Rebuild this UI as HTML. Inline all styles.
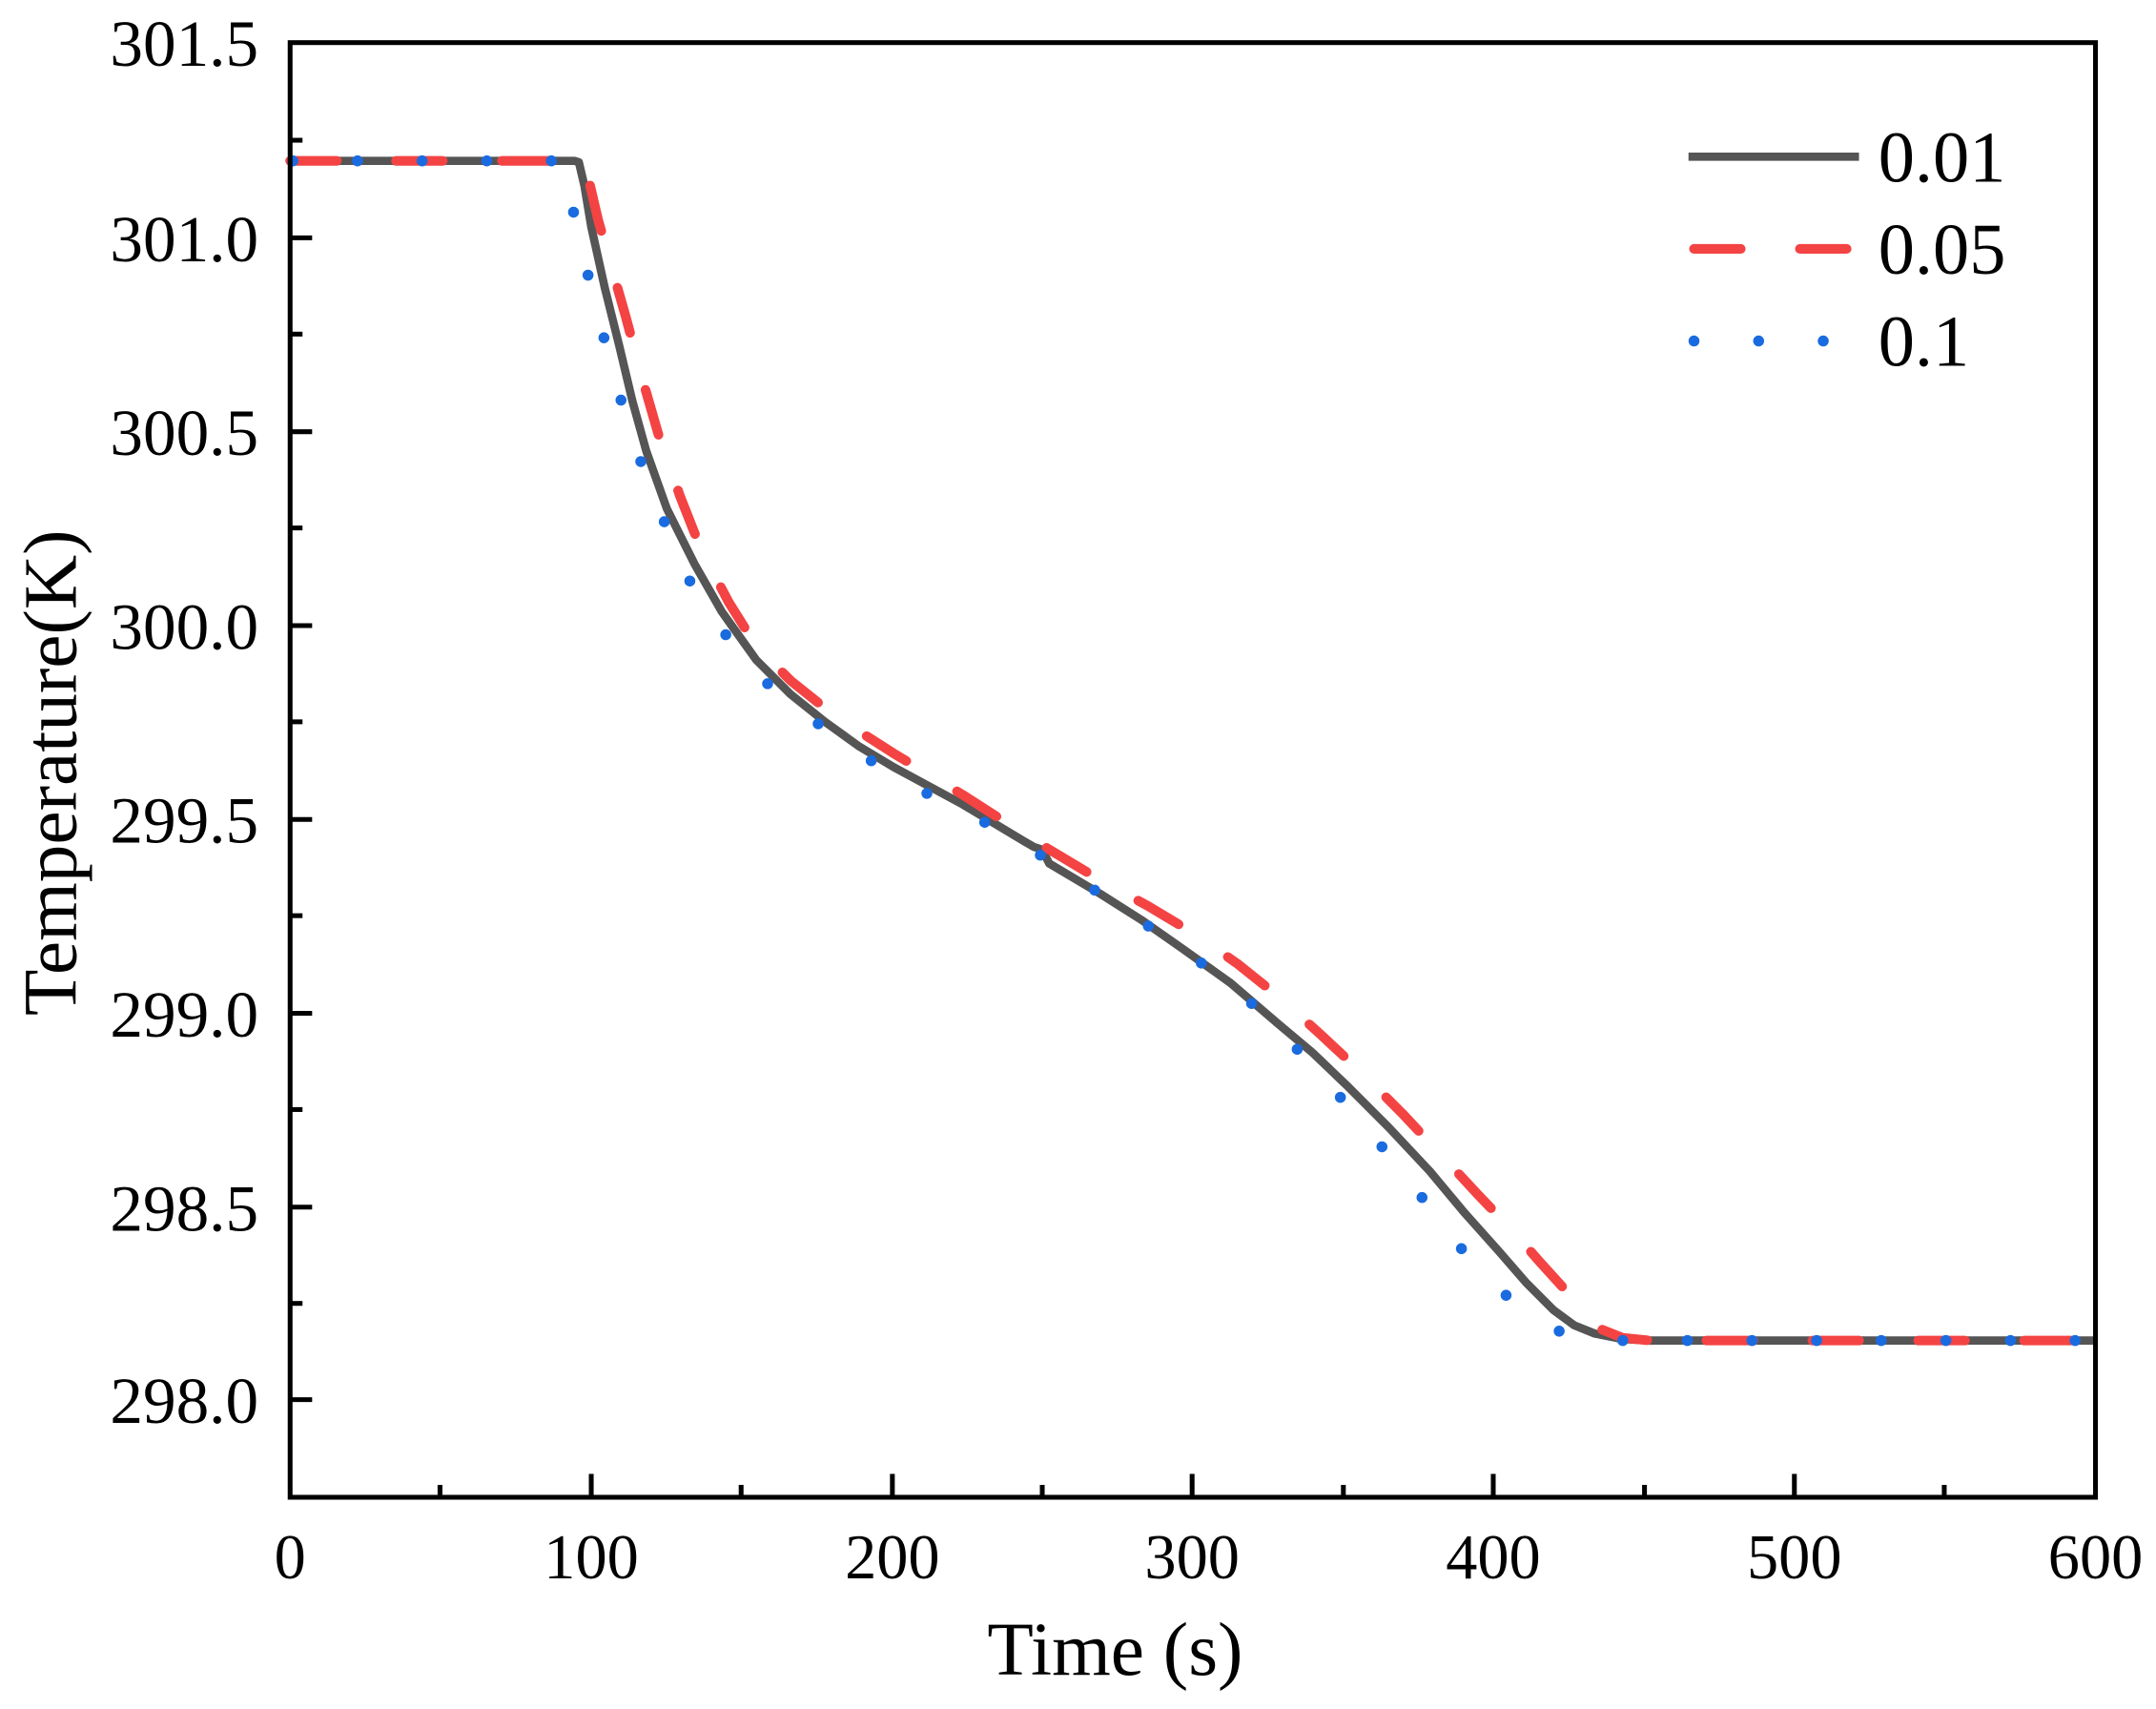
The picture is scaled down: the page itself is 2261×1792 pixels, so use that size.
<!DOCTYPE html>
<html><head><meta charset="utf-8"><style>html,body{margin:0;padding:0;background:#fff}svg{display:block}</style></head>
<body>
<svg width="2261" height="1792" viewBox="0 0 1568 1243" preserveAspectRatio="none" xmlns="http://www.w3.org/2000/svg" font-family="Liberation Serif, serif">
<rect width="1568" height="1243" fill="#fff"/>
<g fill="none" stroke-linejoin="round">
<polyline stroke="#555" stroke-width="6" points="211,117 418,117 421,118 425,135 430,165 440,210 450,250 460,292 470,328 485,370 505,410 525,445 550,480 575,505 600,525 625,543 650,558 700,585 745,612 752,616 758,618 763,628 800,650 830,669 860,690 895,715 930,745 955,766 980,790 1010,820 1040,852 1065,882 1090,910 1110,933 1130,953 1145,964 1160,970 1180,974 1200,975 1524,975"/>
<polyline stroke="#f44343" stroke-width="7" stroke-dasharray="34 43" stroke-linecap="round" points="211,117 423,117 428,130 435,160 445,195 455,230 467,275 480,320 495,362 510,400 530,438 550,470 575,495 600,515 625,532 650,548 700,578 750,610 800,640 835,659 870,680 900,701 930,725 960,752 990,780 1020,810 1050,842 1075,869 1100,895 1120,918 1140,940 1155,958 1165,967 1180,973 1200,975 1524,975"/>
<polyline stroke="#1a6be0" stroke-width="8" stroke-dasharray="0 47" stroke-linecap="round" points="213,117 410,117 412,130 420,168 430,210 445,268 460,320 480,372 500,420 525,458 550,490 575,512 600,530 630,551 660,570 720,600 770,630 800,650 830,670 865,694 900,720 925,744 950,770 980,804 1010,840 1035,872 1060,905 1085,933 1110,955 1130,967 1150,973 1180,975 1524,975"/>
</g>
<rect x="211" y="31" width="1313" height="1058" fill="none" stroke="#000" stroke-width="3.5"/>
<g stroke="#000" stroke-width="3.5">
<line x1="211" y1="173" x2="227" y2="173"/><line x1="211" y1="314" x2="227" y2="314"/><line x1="211" y1="455" x2="227" y2="455"/><line x1="211" y1="596" x2="227" y2="596"/><line x1="211" y1="737" x2="227" y2="737"/><line x1="211" y1="878" x2="227" y2="878"/><line x1="211" y1="1018" x2="227" y2="1018"/>
<line x1="211" y1="102" x2="220" y2="102"/><line x1="211" y1="243" x2="220" y2="243"/><line x1="211" y1="384" x2="220" y2="384"/><line x1="211" y1="525" x2="220" y2="525"/><line x1="211" y1="666" x2="220" y2="666"/><line x1="211" y1="807" x2="220" y2="807"/><line x1="211" y1="948" x2="220" y2="948"/>
<line x1="430" y1="1089" x2="430" y2="1072"/><line x1="649" y1="1089" x2="649" y2="1072"/><line x1="867" y1="1089" x2="867" y2="1072"/><line x1="1086" y1="1089" x2="1086" y2="1072"/><line x1="1305" y1="1089" x2="1305" y2="1072"/>
<line x1="320" y1="1089" x2="320" y2="1080"/><line x1="539" y1="1089" x2="539" y2="1080"/><line x1="758" y1="1089" x2="758" y2="1080"/><line x1="977" y1="1089" x2="977" y2="1080"/><line x1="1196" y1="1089" x2="1196" y2="1080"/><line x1="1414" y1="1089" x2="1414" y2="1080"/>
</g>
<g font-size="48" text-anchor="end" fill="#000">
<text x="188" y="48">301.5</text><text x="188" y="190">301.0</text><text x="188" y="331">300.5</text><text x="188" y="472">300.0</text><text x="188" y="613">299.5</text><text x="188" y="754">299.0</text><text x="188" y="895">298.5</text><text x="188" y="1035">298.0</text>
</g>
<g font-size="46" text-anchor="middle" fill="#000">
<text x="211" y="1148">0</text><text x="430" y="1148">100</text><text x="649" y="1148">200</text><text x="867" y="1148">300</text><text x="1086" y="1148">400</text><text x="1305" y="1148">500</text><text x="1524" y="1148">600</text>
</g>
<text x="811" y="1218" font-size="55" text-anchor="middle">Time (s)</text>
<text transform="translate(55,562) rotate(-90)" font-size="55" text-anchor="middle">Temperature(K)</text>
<line x1="1228" y1="114" x2="1352" y2="114" stroke="#555" stroke-width="6"/>
<line x1="1232" y1="181" x2="1350" y2="181" stroke="#f44343" stroke-width="7" stroke-dasharray="34 43" stroke-linecap="round"/>
<line x1="1232" y1="248" x2="1330" y2="248" stroke="#1a6be0" stroke-width="8" stroke-dasharray="0 47" stroke-linecap="round"/>
<g font-size="53" fill="#000">
<text x="1366" y="132">0.01</text><text x="1366" y="199">0.05</text><text x="1366" y="266">0.1</text>
</g>
</svg>
</body></html>
